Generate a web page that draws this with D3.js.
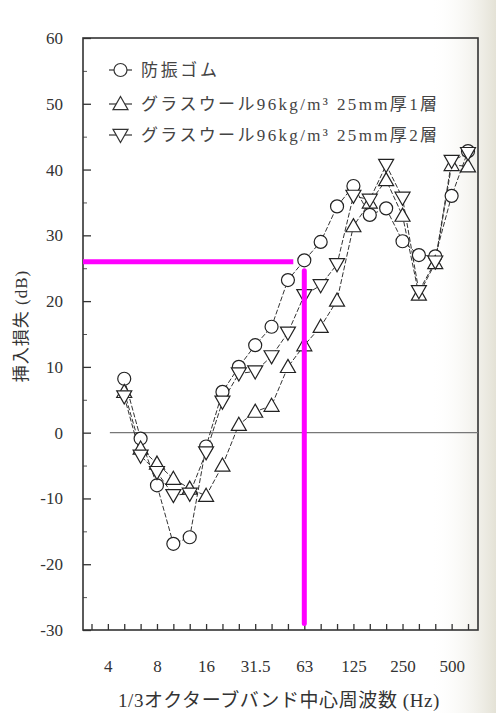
<!DOCTYPE html>
<html>
<head>
<meta charset="utf-8">
<script src="https://cdn.jsdelivr.net/npm/d3@7"></script>
<style>
  body { margin: 0; background: #fff; }
  svg { display: block; }
</style>
</head>
<body>
<div id="chart"></div>
<script>
// 1/3 octave band centre frequencies (every tick on the x axis)
const bands = ["3.15", "4", "5", "6.3", "8", "10", "12.5", "16", "20", "25", "31.5", "40",
    "50", "63", "80", "100", "125", "160", "200", "250", "315", "400", "500", "630"];
const xTickLabels = ["4", "8", "16", "31.5", "63", "125", "250", "500"];
const yTicks = [60, 50, 40, 30, 20, 10, 0, -10, -20, -30];

// measured bands (5 Hz .. 630 Hz)
const freqs = ["5", "6.3", "8", "10", "12.5", "16", "20", "25", "31.5", "40", "50", "63",
    "80", "100", "125", "160", "200", "250", "315", "400", "500", "630"];

const rubber = [8.2, -0.9, -8, -16.9, -15.9, -2.1, 6.2, 10, 13.3, 16.1, 23.2, 26.2,
    29, 34.4, 37.5, 33.1, 34.1, 29.1, 27, 26.8, 36, 42.8];
const wool1 = [6.2, -2.4, -4.7, -7, -8.5, -9.6, -5, 1.2, 3.2, 4.1, 10, 13.3,
    16.1, 20.1, 31.4, 35, 38.4, 33, 21, 25.8, 40.7, 40.5];
const wool2 = [5.5, -3.5, -6, -9.5, -9.3, -3, 4.7, 9, 9.3, 11.6, 15.2, 20.9,
    22.4, 25.6, 36, 35.4, 40.7, 35.7, 21.5, 26, 41.3, 42.5];

const seriesNames = ["防振ゴム", "グラスウール96kg/m³ 25mm厚1層", "グラスウール96kg/m³ 25mm厚2層"];
const seriesShapes = ["circle", "up", "down"];

// reading marked on the scan: 26 dB at 63 Hz
const markFreq = "63";
const markValue = 26;

function init() {
    const w = 496;
    const h = 713;
    const left = 83, right = 478, top = 38, bottom = 630;

    const svg = d3.select("#chart")
        .append("svg")
        .attr("width", w)
        .attr("height", h);

    // scanned page shading on the right edge
    const grad = svg.append("defs").append("linearGradient")
        .attr("id", "page")
        .attr("x1", "0").attr("x2", "1");
    grad.append("stop").attr("offset", "0").attr("stop-color", "#fff").attr("stop-opacity", 0);
    grad.append("stop").attr("offset", "1").attr("stop-color", "#e4e2d6");
    svg.append("rect")
        .attr("x", 430).attr("y", 0)
        .attr("width", 66).attr("height", h)
        .attr("fill", "url(#page)");

    const x = d3.scalePoint()
        .domain(bands)
        .range([91.5, 468]);

    const y = d3.scaleLinear()
        .domain([-30, 60])
        .range([bottom, top]);

    const serif = "'Liberation Serif', 'Noto Sans CJK JP', serif";

    // y axis: major ticks every 10, short ticks at the fives
    const yAxis = svg.append("g")
        .attr("transform", "translate(" + left + ",0)")
        .call(d3.axisLeft(y)
            .tickValues(yTicks)
            .tickSizeInner(-8)
            .tickSizeOuter(0)
            .tickPadding(20)
            .tickFormat(function (d) { return String(d); }));
    yAxis.select(".domain").remove();
    yAxis.selectAll("line").attr("stroke", "#333").attr("stroke-width", 1.3);
    yAxis.selectAll("text")
        .attr("font-family", serif)
        .attr("font-size", 17)
        .attr("fill", "#333");

    const yMinor = svg.append("g")
        .attr("transform", "translate(" + left + ",0)")
        .call(d3.axisLeft(y)
            .tickValues(d3.range(-25, 60, 10))
            .tickSizeInner(-4)
            .tickSizeOuter(0)
            .tickFormat(""));
    yMinor.select(".domain").remove();
    yMinor.selectAll("line").attr("stroke", "#555");

    // x axis: a tick on every band, labels on the octaves
    const xAxis = svg.append("g")
        .attr("transform", "translate(0," + bottom + ")")
        .call(d3.axisBottom(x)
            .tickSizeInner(-6)
            .tickSizeOuter(0)
            .tickPadding(30)
            .tickFormat(function (d) {
                return xTickLabels.includes(d) ? d : "";
            }));
    xAxis.select(".domain").remove();
    xAxis.selectAll("line").attr("stroke", "#333").attr("stroke-width", 1.3);
    xAxis.selectAll("text")
        .attr("font-family", serif)
        .attr("font-size", 17)
        .attr("fill", "#333");

    // frame
    svg.append("rect")
        .attr("x", left).attr("y", top)
        .attr("width", right - left).attr("height", bottom - top)
        .attr("fill", "none")
        .attr("stroke", "#333")
        .attr("stroke-width", 1.6);

    // zero line
    svg.append("line")
        .attr("x1", x("4") + 2).attr("x2", right)
        .attr("y1", y(0)).attr("y2", y(0))
        .attr("stroke", "#777")
        .attr("stroke-width", 1.2);

    // axis titles
    svg.append("text")
        .attr("transform", "translate(27,326) rotate(-90)")
        .attr("text-anchor", "middle")
        .attr("font-family", serif)
        .attr("font-size", 17)
        .attr("letter-spacing", 1)
        .attr("fill", "#333")
        .text("挿入損失 (dB)");

    svg.append("text")
        .attr("x", 279)
        .attr("y", 707)
        .attr("text-anchor", "middle")
        .attr("font-family", serif)
        .attr("font-size", 19)
        .attr("letter-spacing", 0.6)
        .attr("fill", "#333")
        .text("1/3オクターブバンド中心周波数 (Hz)");

    function marker(g, shape, cx, cy) {
        if (shape === "circle") {
            g.append("circle")
                .attr("cx", cx).attr("cy", cy).attr("r", 6.5);
        } else {
            const s = 7.5;
            const pts = shape === "up"
                ? [[cx, cy - s], [cx + s, cy + s * 0.75], [cx - s, cy + s * 0.75]]
                : [[cx, cy + s], [cx + s, cy - s * 0.75], [cx - s, cy - s * 0.75]];
            g.append("path").attr("d", "M" + pts.join("L") + "Z");
        }
    }

    const allSeries = [rubber, wool1, wool2];
    const line = d3.line()
        .x(function (d, i) { return x(freqs[i]); })
        .y(function (d) { return y(d); });

    allSeries.forEach(function (vals, k) {
        svg.append("path")
            .datum(vals)
            .attr("d", line)
            .attr("fill", "none")
            .attr("stroke", "#333")
            .attr("stroke-width", 1)
            .attr("stroke-dasharray", "5,2");
    });

    allSeries.forEach(function (vals, k) {
        const g = svg.append("g")
            .attr("fill", "#fff")
            .attr("stroke", "#222")
            .attr("stroke-width", 1.2);
        for (let i = 0; i < vals.length; i++) {
            marker(g, seriesShapes[k], x(freqs[i]), y(vals[i]));
        }
    });

    // legend
    const legY = [70, 104, 135];
    const legWidth = [76, 296, 296];
    for (let k = 0; k < seriesNames.length; k++) {
        const g = svg.append("g")
            .attr("fill", "#fff")
            .attr("stroke", "#333")
            .attr("stroke-width", 1.2);
        g.append("line")
            .attr("x1", 109).attr("x2", 132)
            .attr("y1", legY[k]).attr("y2", legY[k]);
        marker(g, seriesShapes[k], 120.5, legY[k]);
        svg.append("text")
            .attr("x", 141)
            .attr("y", legY[k] + 6)
            .attr("font-family", serif)
            .attr("font-size", 17)
            .attr("textLength", legWidth[k])
            .attr("lengthAdjust", "spacing")
            .attr("fill", "#444")
            .text(seriesNames[k]);
    }

    // magenta reading lines
    svg.append("line")
        .attr("x1", left).attr("x2", x(markFreq) - 11)
        .attr("y1", y(markValue)).attr("y2", y(markValue))
        .attr("stroke", "#f0f")
        .attr("stroke-width", 5);
    svg.append("line")
        .attr("x1", x(markFreq)).attr("x2", x(markFreq))
        .attr("y1", y(markValue) + 9).attr("y2", y(-29))
        .attr("stroke", "#f0f")
        .attr("stroke-width", 5)
        .attr("stroke-linecap", "round");
}

window.onload = init;
</script>
</body>
</html>
